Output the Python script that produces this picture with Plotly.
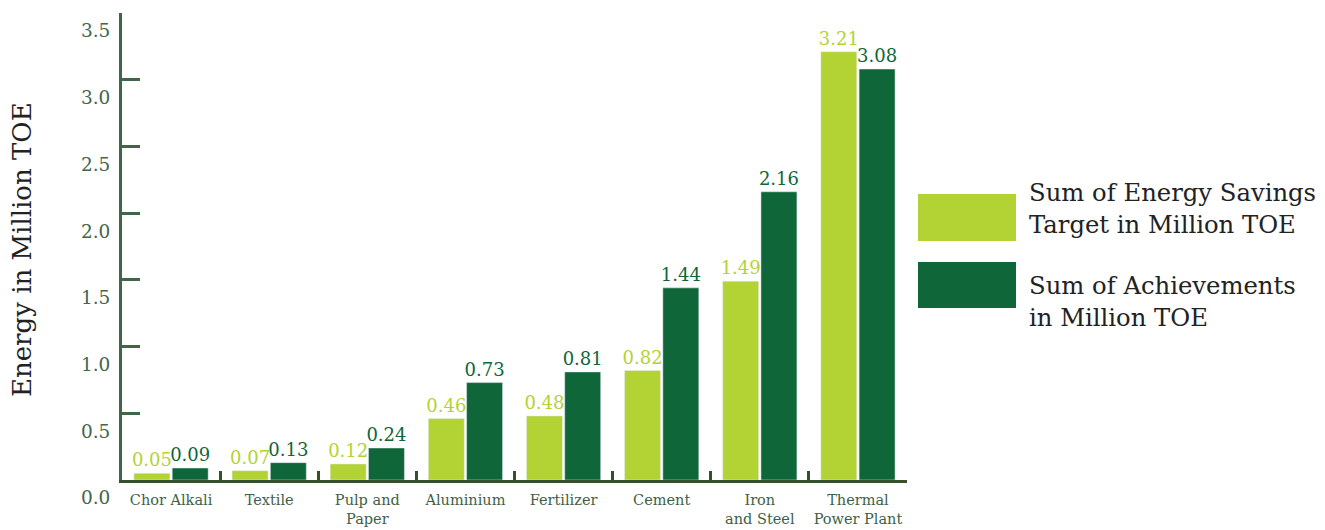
import plotly.graph_objects as go

categories = ["Chor Alkali", "Textile", "Pulp and<br>Paper", "Aluminium", "Fertilizer",
              "Cement", "Iron<br>and Steel", "Thermal<br>Power Plant"]
target = [0.05, 0.07, 0.12, 0.46, 0.48, 0.82, 1.49, 3.21]
achieved = [0.09, 0.13, 0.24, 0.73, 0.81, 1.44, 2.16, 3.08]
y_ticks = [0, 0.5, 1.0, 1.5, 2.0, 2.5, 3.0, 3.5]
legend_names = ["Sum of Energy Savings<br>Target in Million TOE",
                "Sum of Achievements<br>in Million TOE"]

LIGHT = "#b3d334"
DARK = "#0f6638"
AXIS = "#3f6647"
FONT = "DejaVu Serif"

OFF = 8  # page body margin
W, H = 1325 - OFF, 530 - OFF
# plot area in screen pixels
SL, SR, ST, SB = 122, 907, 13, 480
PL, PR, PT, PB = SL - OFF, SR - OFF, ST - OFF, SB - OFF


def px(x):
    return (x - SL) / (SR - SL)


def py(y):
    return (SB - y) / (SB - ST)


fig = go.Figure()
fig.add_trace(go.Bar(x=categories, y=target, name=legend_names[0], marker_color=LIGHT,
                     text=[f"{v:.2f}" for v in target], textposition="outside",
                     constraintext="none",
                     textfont=dict(color=LIGHT, size=18, family=FONT), cliponaxis=False))
fig.add_trace(go.Bar(x=categories, y=achieved, name=legend_names[1], marker_color=DARK,
                     text=[f"{v:.2f}" for v in achieved], textposition="outside",
                     constraintext="none",
                     textfont=dict(color=DARK, size=18, family=FONT), cliponaxis=False))

# custom legend with large swatches
rows = [(194, 241), (262, 308)]
text_centers = [208, 301]
for (y0, y1), tc, name, col in zip(rows, text_centers, legend_names, [LIGHT, DARK]):
    fig.add_shape(type="rect", xref="paper", yref="paper",
                  x0=px(918), x1=px(1016), y0=py(y1), y1=py(y0),
                  fillcolor=col, line_width=0)
    fig.add_annotation(xref="paper", yref="paper",
                       x=px(1027), y=py(tc),
                       xanchor="left", yanchor="middle", align="left", showarrow=False,
                       text=name, font=dict(family=FONT, size=24.3, color="#222222"))

# y-axis title
fig.add_annotation(xref="paper", yref="paper", x=px(22), y=py(250),
                   text="Energy in Million TOE", textangle=-90, showarrow=False,
                   xanchor="center", yanchor="middle",
                   font=dict(size=26, color="#222222", family=FONT))

fig.update_layout(
    width=W, height=H,
    margin=dict(l=PL, r=W - PR, t=PT, b=H - PB, autoexpand=False),
    paper_bgcolor="white", plot_bgcolor="white",
    barmode="group", bargap=0.22, bargroupgap=0.06,
    showlegend=False,
    font=dict(family=FONT, color=AXIS),
)
fig.update_xaxes(
    automargin=False, tickangle=0,
    showline=True, linecolor="#35512c", linewidth=3,
    ticks="inside", tickson="boundaries", ticklen=9, tickwidth=3, tickcolor="#35512c",
    tickfont=dict(size=14.5, color="#3d6247", family=FONT),
    ticklabelstandoff=5,
    showgrid=False,
)
fig.update_yaxes(
    automargin=False,
    range=[0, 3.5], tickvals=y_ticks, ticktext=[f"{v:.1f}" for v in y_ticks],
    showline=True, linecolor=AXIS, linewidth=3,
    ticks="inside", ticklen=18, tickwidth=3, tickcolor=AXIS,
    tickfont=dict(size=18.5, color="#44664c", family=FONT),
    ticklabelstandoff=5, ticklabelshift=18,
    showgrid=False, zeroline=False,
)

fig.write_html("out.html")
